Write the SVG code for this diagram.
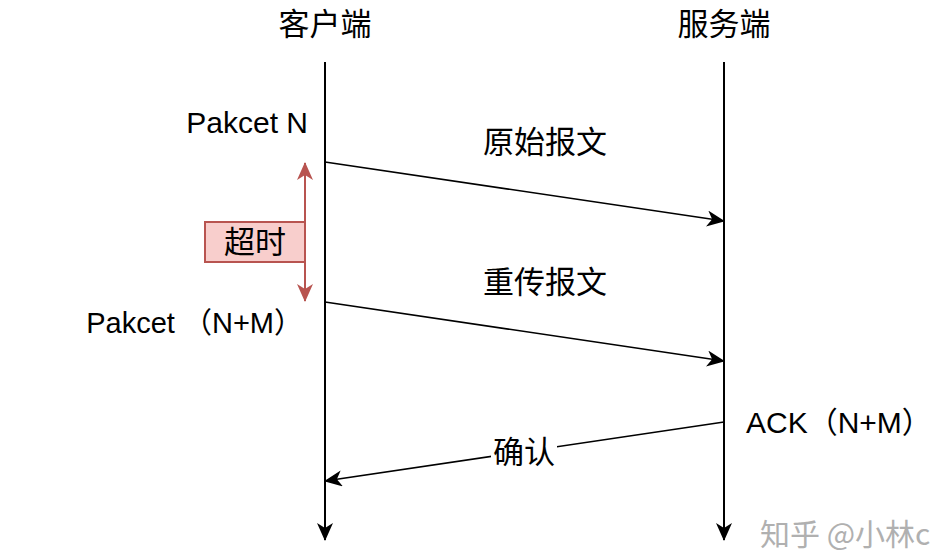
<svg xmlns="http://www.w3.org/2000/svg" width="932" height="555" viewBox="0 0 932 555">
<style>
  text { font-family: "Liberation Sans", "Noto Sans CJK SC", sans-serif; fill: #000; }
  .cjk { font-family: "Noto Sans CJK SC", sans-serif; font-size: 31px; }
  .lat { font-size: 30px; }
  .ln { stroke: #000; stroke-width: 2; fill: none; }
  .msg { stroke: #000; stroke-width: 1.6; fill: none; marker-end: url(#ah); }
  .red { stroke: #b85450; stroke-width: 2; fill: none; marker-start: url(#ahr); marker-end: url(#ahr); }
</style>
<defs>
  <marker id="ah" markerUnits="userSpaceOnUse" markerWidth="20" markerHeight="18" refX="17" refY="8" orient="auto">
    <path d="M0,0 L18,8 L0,16 L5,8 Z" fill="#000"/>
  </marker>
  <marker id="ahr" markerUnits="userSpaceOnUse" markerWidth="20" markerHeight="18" refX="17" refY="8" orient="auto-start-reverse">
    <path d="M0,0 L18,8 L0,16 L5,8 Z" fill="#b85450"/>
  </marker>
</defs>
<rect width="932" height="555" fill="#fff"/>

<g id="client">
  <text class="cjk" x="325" y="35" text-anchor="middle">客户端</text>
</g>
<g id="server">
  <text class="cjk" x="724" y="35" text-anchor="middle">服务端</text>
</g>

<g id="connectors">
  <line class="ln" x1="325" y1="62" x2="325" y2="540" marker-end="url(#ah)"/>
  <line class="ln" x1="724" y1="62" x2="724" y2="540" marker-end="url(#ah)"/>
  <line class="msg" x1="325" y1="162" x2="724" y2="221"/>
  <line class="msg" x1="325" y1="302" x2="724" y2="361"/>
  <line class="msg" x1="724" y1="422" x2="325" y2="481"/>
  <line class="red" x1="305" y1="163" x2="305" y2="301"/>
</g>

<g id="label-pakcet-n">
  <text class="lat" x="308" y="133" text-anchor="end">Pakcet N</text>
</g>
<g id="label-pakcet-nm">
  <text class="lat" x="303" y="333" text-anchor="end" style="font-size:29px">Pakcet （N+M）</text>
</g>
<g id="label-ack">
  <text class="lat" x="746" y="433">ACK（N+M）</text>
</g>
<g id="label-original">
  <text class="cjk" x="545" y="153" text-anchor="middle">原始报文</text>
</g>
<g id="label-resend">
  <text class="cjk" x="545" y="293" text-anchor="middle">重传报文</text>
</g>
<g id="label-confirm">
  <rect x="491" y="436" width="66" height="32" fill="#fff"/>
  <text class="cjk" x="524" y="463" text-anchor="middle">确认</text>
</g>
<g id="timeout">
  <rect x="205" y="222" width="100" height="40" fill="#f8cecc" stroke="#b85450" stroke-width="2"/>
  <text class="cjk" x="255" y="253" text-anchor="middle">超时</text>
</g>
<g id="watermark">
  <text x="760" y="545" style="font-family:'Noto Sans CJK SC',sans-serif;font-size:30px;fill:#b0b0b0">知乎 @小林c</text>
</g>
</svg>
